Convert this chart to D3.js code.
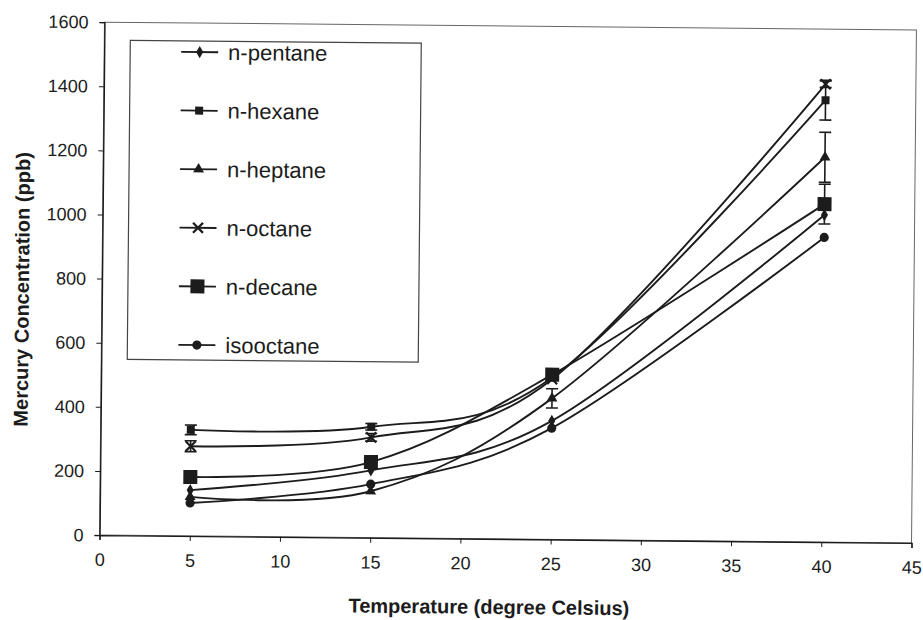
<!DOCTYPE html>
<html>
<head>
<meta charset="utf-8">
<script src="https://cdn.jsdelivr.net/npm/d3@7/dist/d3.min.js"></script>
<style>
  html, body { margin: 0; padding: 0; background: #fff; }
  svg { display: block; font-family: Arial, "Liberation Sans", sans-serif; }
</style>
</head>
<body>
<svg id="chart" width="923" height="620"></svg>
<script>
// Temperatures (degree Celsius) at which mercury was measured
const temps = [5, 15, 25, 40];

// Mercury concentration (ppb) per solvent
const pentane   = [143, 210, 370, 1020];
const hexane    = [331, 346, 505, 1378];
const heptane   = [122, 145, 440, 1200];
const octane    = [280, 313, 500, 1428];
const decane    = [184, 236, 514, 1054];
const isooctane = [103, 167, 347, 950];

// Error bar half-widths (ppb)
const pentaneErr   = [0, 0, 0, 0];
const hexaneErr    = [15, 10, 0, 62];
const heptaneErr   = [0, 0, 30, 78];
const octaneErr    = [17, 12, 0, 10];
const decaneErr    = [0, 0, 0, 62];
const isooctaneErr = [0, 0, 0, 0];

const names   = ["n-pentane", "n-hexane", "n-heptane", "n-octane", "n-decane", "isooctane"];
const symbols = ["diamond", "square", "triangle", "cross", "bigsquare", "circle"];

const xTicks = [0, 5, 10, 15, 20, 25, 30, 35, 40, 45];
const yTicks = [0, 200, 400, 600, 800, 1000, 1200, 1400, 1600];

const seriesValues = [pentane, hexane, heptane, octane, decane, isooctane];
const seriesErrors = [pentaneErr, hexaneErr, heptaneErr, octaneErr, decaneErr, isooctaneErr];
const series = names.map((name, i) => ({
  name, symbol: symbols[i],
  points: temps.map((t, j) => ({ t, v: seriesValues[i][j], e: seriesErrors[i][j] }))
}));

const svg = d3.select("#chart");
const ink = "#1c1c1c";

const plot = { left: 102, right: 914, top: 26, bottom: 539 };

// the whole figure sits slightly tilted on the page
const root = svg.append("g").attr("transform", "rotate(0.55 506 282)");

const x = d3.scaleLinear().domain([0, 45]).range([plot.left, plot.right]);
const y = d3.scaleLinear().domain([0, 1600]).range([plot.bottom, plot.top]);

// plot area frame
root.append("rect")
  .attr("x", plot.left).attr("y", plot.top)
  .attr("width", plot.right - plot.left).attr("height", plot.bottom - plot.top)
  .attr("fill", "none").attr("stroke", "#666").attr("stroke-width", 1);

// axes
const xAxis = root.append("g")
  .attr("transform", `translate(0,${plot.bottom})`)
  .call(d3.axisBottom(x).tickValues(xTicks).tickSize(5).tickPadding(13).tickFormat(d3.format("d")));
const yAxis = root.append("g")
  .attr("transform", `translate(${plot.left},0)`)
  .call(d3.axisLeft(y).tickValues(yTicks).tickSize(5).tickPadding(11).tickFormat(d3.format("d")));

[xAxis, yAxis].forEach(a => {
  a.select(".domain").attr("stroke", ink).attr("stroke-width", 1.4);
  a.selectAll(".tick line").attr("stroke", ink).attr("stroke-width", 1);
  a.selectAll(".tick text").attr("fill", ink).attr("font-size", 18)
    .attr("font-family", "Arial, 'Liberation Sans', sans-serif");
});

// axis titles
root.append("text")
  .attr("x", 492).attr("y", 614)
  .attr("text-anchor", "middle").attr("font-size", 20).attr("font-weight", "bold")
  .attr("fill", ink).text("Temperature (degree Celsius)");
root.append("text")
  .attr("transform", "translate(29,294) rotate(-90)")
  .attr("text-anchor", "middle").attr("font-size", 20).attr("font-weight", "bold")
  .attr("fill", ink).text("Mercury Concentration (ppb)");

// marker drawing
function drawMarker(g, kind, cx, cy) {
  if (kind === "diamond") {
    g.append("path").attr("d", d3.symbol(d3.symbolDiamond, 44)()).attr("transform", `translate(${cx},${cy})`).attr("fill", ink);
  } else if (kind === "square") {
    g.append("rect").attr("x", cx - 4).attr("y", cy - 4).attr("width", 8).attr("height", 8).attr("fill", ink);
  } else if (kind === "triangle") {
    g.append("path").attr("d", d3.symbol(d3.symbolTriangle, 52)()).attr("transform", `translate(${cx},${cy})`).attr("fill", ink);
  } else if (kind === "cross") {
    g.append("path").attr("d", `M${cx - 5},${cy - 5}L${cx + 5},${cy + 5}M${cx - 5},${cy + 5}L${cx + 5},${cy - 5}`)
      .attr("stroke", ink).attr("stroke-width", 2.2);
  } else if (kind === "bigsquare") {
    g.append("rect").attr("x", cx - 7).attr("y", cy - 7).attr("width", 14).attr("height", 14).attr("fill", ink);
  } else if (kind === "circle") {
    g.append("circle").attr("cx", cx).attr("cy", cy).attr("r", 4.6).attr("fill", ink);
  }
}

const line = d3.line()
  .x(d => x(d.t)).y(d => y(d.v))
  .curve(d3.curveCatmullRom.alpha(0));

const dataLayer = root.append("g");

// series lines
dataLayer.selectAll("path.series")
  .data(series).join("path")
  .attr("class", "series")
  .attr("d", d => line(d.points))
  .attr("fill", "none").attr("stroke", ink).attr("stroke-width", 1.9);

// error bars
series.forEach(s => {
  s.points.filter(p => p.e > 0).forEach(p => {
    const cx = x(p.t), y1 = y(p.v - p.e), y2 = y(p.v + p.e);
    dataLayer.append("path")
      .attr("d", `M${cx},${y1}V${y2}M${cx - 6},${y1}H${cx + 6}M${cx - 6},${y2}H${cx + 6}`)
      .attr("stroke", ink).attr("stroke-width", 1.6).attr("fill", "none");
  });
});

// markers
series.forEach(s => {
  s.points.forEach(p => drawMarker(dataLayer, s.symbol, x(p.t), y(p.v)));
});

// legend
const legend = root.append("g");
legend.append("rect")
  .attr("x", 128).attr("y", 44).attr("width", 291).attr("height", 319)
  .attr("fill", "#fff").attr("stroke", "#444").attr("stroke-width", 1.2);

series.forEach((s, i) => {
  const ly = 55 + i * 58.6;
  legend.append("line")
    .attr("x1", 179).attr("x2", 216).attr("y1", ly).attr("y2", ly)
    .attr("stroke", ink).attr("stroke-width", 1.8);
  drawMarker(legend, s.symbol, 197.5, ly);
  legend.append("text")
    .attr("x", 226).attr("y", ly).attr("dy", "0.35em")
    .attr("font-size", 22).attr("fill", ink).text(s.name);
});
</script>
</body>
</html>
